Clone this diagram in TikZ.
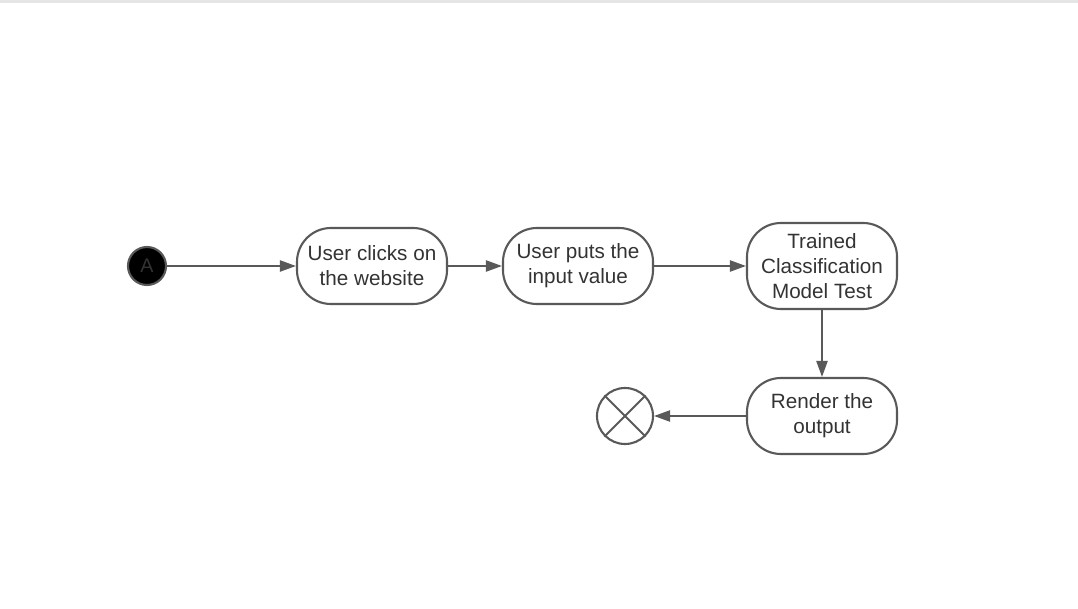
\documentclass[tikz,border=0pt]{standalone}
\usepackage{fontspec}
\setmainfont{Liberation Sans}
\usetikzlibrary{arrows.meta}
\definecolor{linecolor}{RGB}{89, 89, 89}
\definecolor{textcolor}{RGB}{51, 51, 51}

\begin{document}
\begin{tikzpicture}[
    x=0.025cm, y=-0.025cm,
    activity/.style={rectangle, draw=linecolor, line width=1.5pt, rounded corners=0.85cm, minimum width=3.75cm, minimum height=1.9cm, align=center, text=textcolor, font=\fontsize{14.7}{17.8}\selectfont, inner sep=2pt},
    startnode/.style={circle, draw=linecolor, fill=black, line width=1.5pt, minimum size=0.95cm, inner sep=0pt, text=textcolor, font=\fontsize{14}{16}\selectfont},
    endnode/.style={circle, draw=linecolor, line width=1.5pt, minimum size=1.4cm, inner sep=0pt},
    arrow/.style={-{Triangle[length=0.4cm, width=0.28cm]}, draw=linecolor, line width=1.2pt}
]

% Page frame
\useasboundingbox (0,0) rectangle (1078,609);
\fill[gray!20] (0,0) rectangle (1078,3);

% Activities
\node[startnode] (start) at (147,266) {A};
\node[activity] (click) at (372,266) {User clicks on\\the website};
\node[activity] (input) at (578,266) {User puts the\\input value};
\node[activity, minimum height=2.15cm] (model) at (822,266) {Trained\\Classification\\Model Test};
\node[activity] (render) at (822,416) {Render the\\output};
\node[endnode] (stop) at (625,416) {};
\draw[linecolor, line width=1.5pt] (stop.45) -- (stop.225);
\draw[linecolor, line width=1.5pt] (stop.135) -- (stop.-45);

% Flow
\draw[arrow] (start) -- (click);
\draw[arrow] (click) -- (input);
\draw[arrow] (input) -- (model);
\draw[arrow] (model) -- (render);
\draw[arrow] (render) -- (stop);

\end{tikzpicture}
\end{document}
